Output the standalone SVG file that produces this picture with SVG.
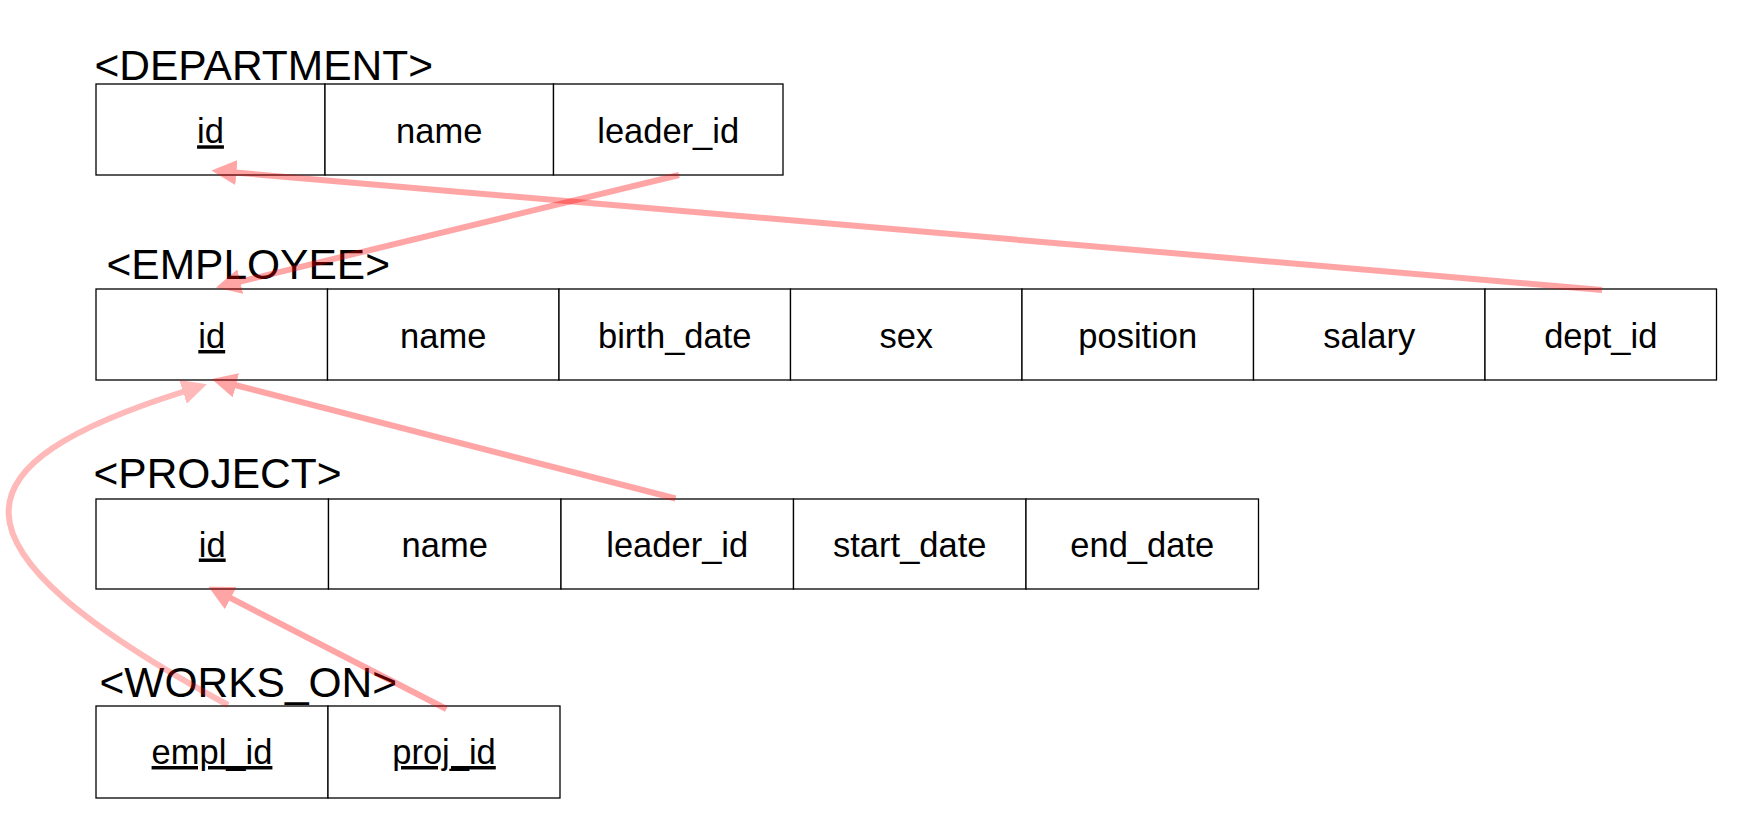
<svg xmlns="http://www.w3.org/2000/svg" width="1750" height="834" viewBox="0 0 1750 834">
  <style>
    .cell { fill: #ffffff; stroke: #000000; stroke-width: 1.3; }
    .title { font-family: "Liberation Sans", Arial, Helvetica, sans-serif; font-size: 42.5px; fill: #000000; }
    .txt { font-family: "Liberation Sans", Arial, Helvetica, sans-serif; font-size: 34.5px; fill: #000000; text-anchor: middle; }
    .key { text-decoration: underline; }
    .fk { fill: none; stroke: #ff0000; stroke-width: 6; }
    .fk-line { opacity: 0.35; }
    .fk-curve { opacity: 0.27; }
  </style>
  <defs>
    <marker id="head" viewBox="0 0 25 25" refX="1" refY="12.5" markerWidth="25" markerHeight="25" markerUnits="userSpaceOnUse" orient="auto">
      <path d="M0,0 L25,12.5 L0,25 Z" fill="#ff0000"/>
    </marker>
  </defs>
  <rect width="1750" height="834" fill="#ffffff"/>

  <g id="department">
    <text class="title" x="94.5" y="79.5">&lt;DEPARTMENT&gt;</text>
    <rect class="cell" x="96" y="84" width="229" height="91"/>
    <rect class="cell" x="325" y="84" width="228.5" height="91"/>
    <rect class="cell" x="553.5" y="84" width="229.5" height="91"/>
    <text class="txt key" x="210.5" y="143.3">id</text>
    <text class="txt" x="439.2" y="143.3">name</text>
    <text class="txt" x="668.2" y="143.3">leader_id</text>
  </g>

  <g id="employee">
    <text class="title" x="106.5" y="279">&lt;EMPLOYEE&gt;</text>
    <rect class="cell" x="96" y="289" width="231.5" height="91"/>
    <rect class="cell" x="327.5" y="289" width="231.5" height="91"/>
    <rect class="cell" x="559" y="289" width="231.5" height="91"/>
    <rect class="cell" x="790.5" y="289" width="231.5" height="91"/>
    <rect class="cell" x="1022" y="289" width="231.5" height="91"/>
    <rect class="cell" x="1253.5" y="289" width="231.5" height="91"/>
    <rect class="cell" x="1485" y="289" width="231.5" height="91"/>
    <text class="txt key" x="211.75" y="348">id</text>
    <text class="txt" x="443.25" y="348">name</text>
    <text class="txt" x="674.75" y="348">birth_date</text>
    <text class="txt" x="906.25" y="348">sex</text>
    <text class="txt" x="1137.75" y="348">position</text>
    <text class="txt" x="1369.25" y="348">salary</text>
    <text class="txt" x="1600.75" y="348">dept_id</text>
  </g>

  <g id="project">
    <text class="title" x="93.5" y="488">&lt;PROJECT&gt;</text>
    <rect class="cell" x="96" y="499" width="232.5" height="90"/>
    <rect class="cell" x="328.5" y="499" width="232.5" height="90"/>
    <rect class="cell" x="561" y="499" width="232.5" height="90"/>
    <rect class="cell" x="793.5" y="499" width="232.5" height="90"/>
    <rect class="cell" x="1026" y="499" width="232.5" height="90"/>
    <text class="txt key" x="212.25" y="556.5">id</text>
    <text class="txt" x="444.75" y="556.5">name</text>
    <text class="txt" x="677.25" y="556.5">leader_id</text>
    <text class="txt" x="909.75" y="556.5">start_date</text>
    <text class="txt" x="1142.25" y="556.5">end_date</text>
  </g>

  <g id="works_on">
    <text class="title" x="99.5" y="697">&lt;WORKS_ON&gt;</text>
    <rect class="cell" x="96" y="706" width="232" height="92"/>
    <rect class="cell" x="328" y="706" width="232" height="92"/>
    <text class="txt key" x="212" y="764">empl_id</text>
    <text class="txt key" x="444" y="764">proj_id</text>
  </g>

  <g id="connectors">
    <g class="fk-line"><path class="fk" d="M679,175 L239.3,281.8" marker-end="url(#head)"/></g>
    <g class="fk-line"><path class="fk" d="M1602,290 L235.4,172.55" marker-end="url(#head)"/></g>
    <g class="fk-line"><path class="fk" d="M675.5,498.5 L234.9,385" marker-end="url(#head)"/></g>
    <g class="fk-line"><path class="fk" d="M446.4,709 L229.8,597.7" marker-end="url(#head)"/></g>
    <g class="fk-curve"><path class="fk" d="M228,705 C-70.2,542.8 -44,463.5 184,391.5" marker-end="url(#head)"/></g>
  </g>
</svg>
